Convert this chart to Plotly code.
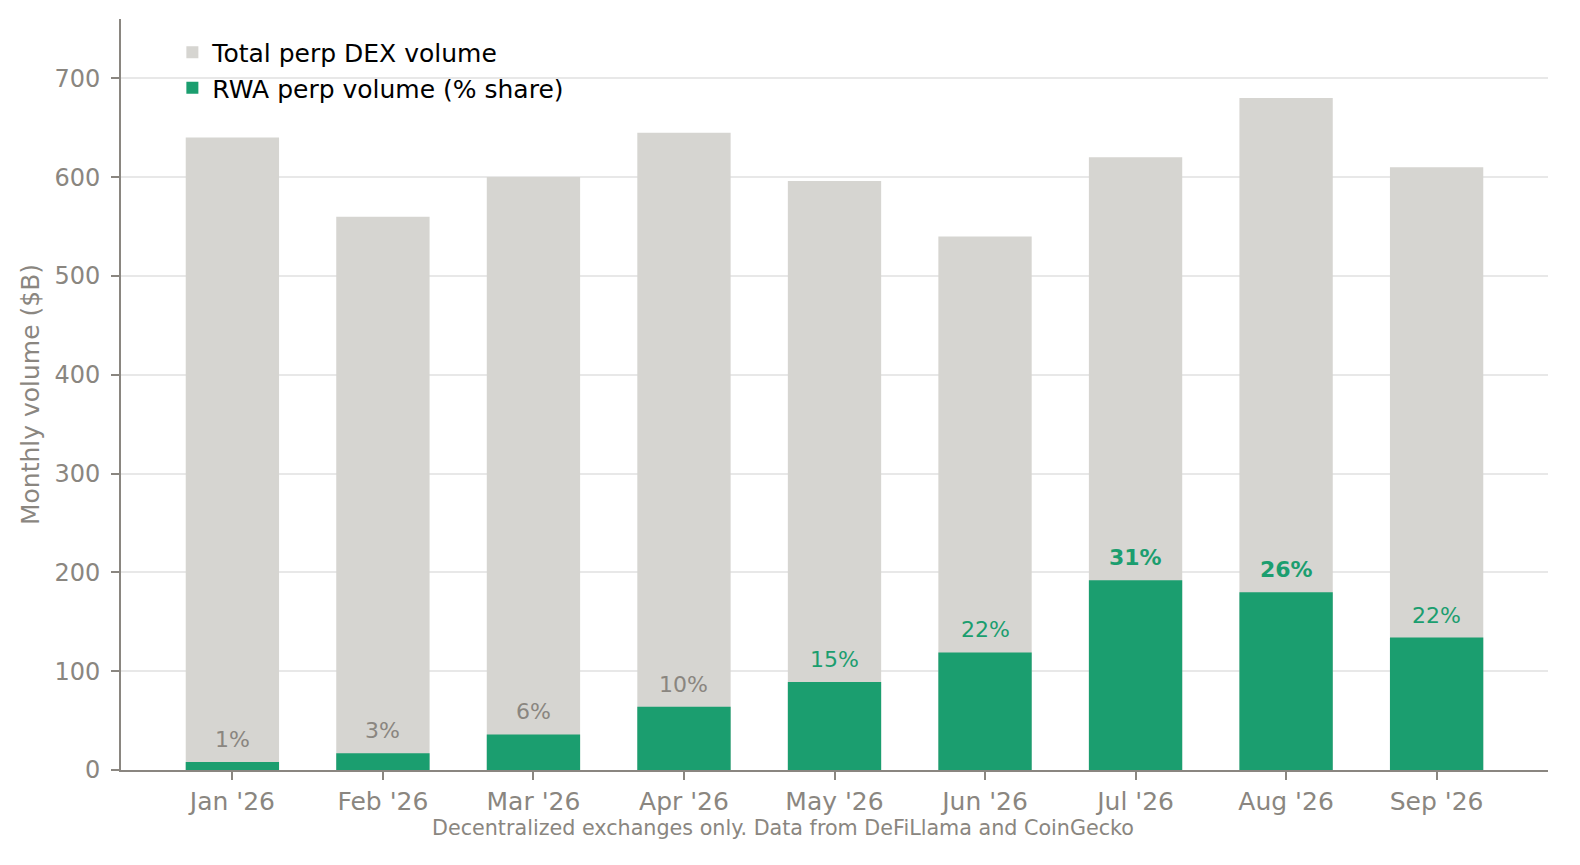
import plotly.graph_objects as go

months = ["Jan '26", "Feb '26", "Mar '26", "Apr '26", "May '26", "Jun '26", "Jul '26", "Aug '26", "Sep '26"]
total_vol = [640, 560, 600, 645, 596, 540, 620, 680, 610]
rwa_vol = [8, 17, 36, 64, 89, 119, 192, 180, 134]
rwa_share = [1, 3, 6, 10, 15, 22, 31, 26, 22]

GREY_BAR = "#d6d5d1"
GREEN = "#1b9e6f"
AXIS_GREY = "#8a8680"
FONT = "DejaVu Sans"

fig = go.Figure()
fig.add_trace(go.Bar(x=months, y=total_vol, name="Total perp DEX volume",
                     marker=dict(color=GREY_BAR, line=dict(width=0)), width=0.62))
fig.add_trace(go.Bar(x=months, y=rwa_vol, name="RWA perp volume (% share)",
                     marker=dict(color=GREEN, line=dict(width=0)), width=0.62))

# share labels above the green bars
for m, v, s in zip(months, rwa_vol, rwa_share):
    col = GREEN if s >= 15 else AXIS_GREY
    txt = f"<b>{s}%</b>" if s >= 25 else f"{s}%"
    fig.add_annotation(x=m, y=v, text=txt, showarrow=False, yanchor="bottom", yshift=8,
                       font=dict(family=FONT, size=22, color=col))

fig.add_annotation(text="Decentralized exchanges only. Data from DeFiLlama and CoinGecko",
                   xref="paper", yref="paper", x=0.464, y=-0.077, showarrow=False,
                   xanchor="center", yanchor="middle",
                   font=dict(family=FONT, size=20.7, color=AXIS_GREY))

# page body has an 8px margin, so the figure is shrunk to fit the window
fig.update_layout(
    width=1564, height=849,
    barmode="overlay",
    plot_bgcolor="white", paper_bgcolor="white",
    margin=dict(l=113, r=24, t=11, b=87, autoexpand=False),
    font=dict(family=FONT, color=AXIS_GREY),
    showlegend=True,
    legend=dict(x=0.036, y=0.986, xanchor="left", yanchor="top",
                font=dict(family=FONT, size=25, color="black"),
                bgcolor="rgba(0,0,0,0)"),
)
fig.update_xaxes(range=[-0.74, 8.74], showline=True, linecolor=AXIS_GREY, linewidth=2,
                 ticks="outside", ticklen=8, tickwidth=2, tickcolor=AXIS_GREY,
                 tickfont=dict(family=FONT, size=25, color=AXIS_GREY), showgrid=False,
                 automargin=False)
fig.update_yaxes(range=[0, 760], tickvals=[0, 100, 200, 300, 400, 500, 600, 700],
                 showline=True, linecolor=AXIS_GREY, linewidth=2,
                 ticks="outside", ticklen=8, tickwidth=2, tickcolor=AXIS_GREY,
                 tickfont=dict(family=FONT, size=24, color=AXIS_GREY), ticklabelstandoff=6,
                 showgrid=True, gridcolor="rgba(0,0,0,0.09)", gridwidth=1.5,
                 zeroline=False, layer="above traces", automargin=False,
                 title=dict(text="Monthly volume ($B)", standoff=8,
                            font=dict(family=FONT, size=25, color=AXIS_GREY)))

fig.write_html("out.html")
